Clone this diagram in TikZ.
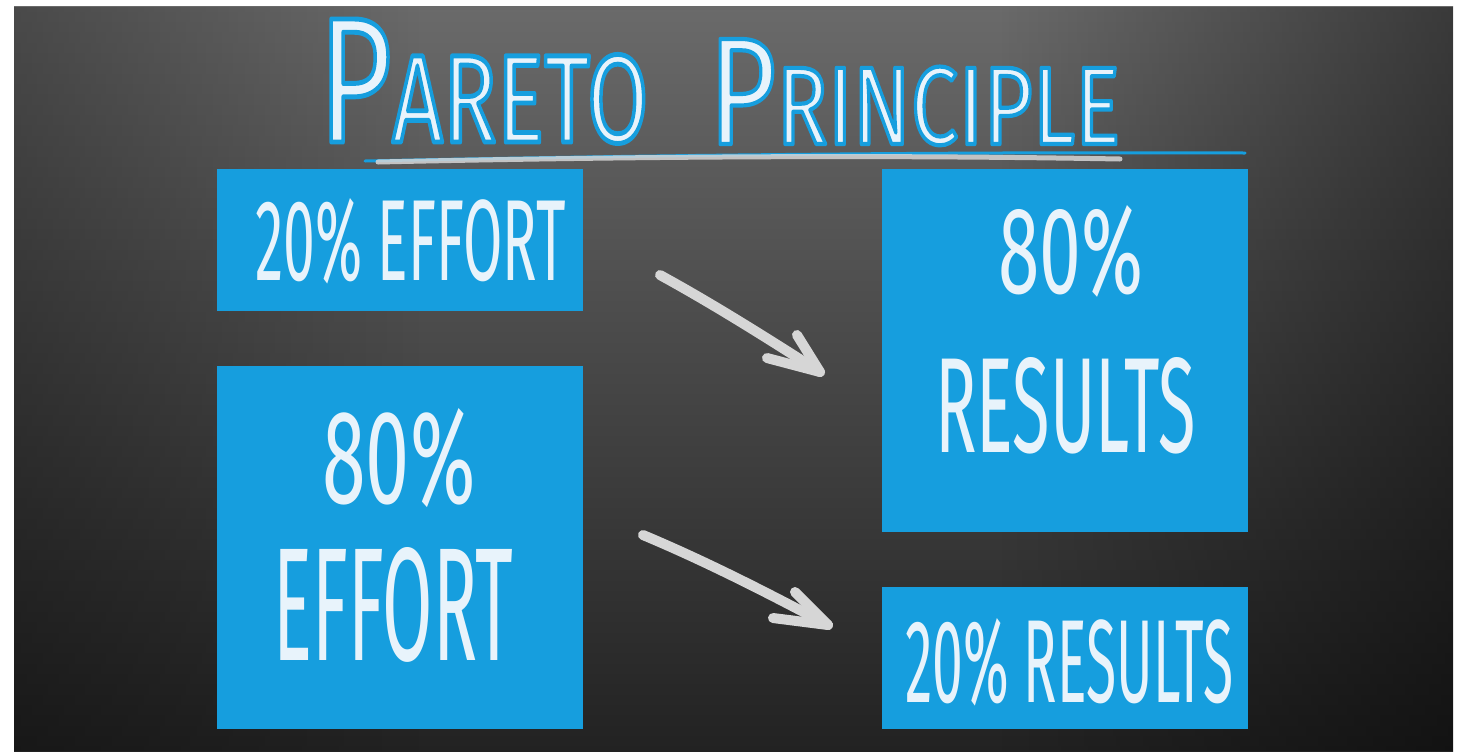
\documentclass[tikz,border=0pt]{standalone}
\usepackage{fontspec}
\setmainfont{Fira Sans}
\usetikzlibrary{fadings}
\newlength\pxu
\setlength\pxu{0.5pt}
\newcommand\pxfit[3]{\resizebox{#1\pxu}{#2\pxu}{#3}}
\definecolor{boardblue}{RGB}{22,158,222}
\definecolor{chalkwhite}{RGB}{232,243,251}
\definecolor{chalkgray}{RGB}{214,214,214}
\definecolor{boardtop}{RGB}{106,106,106}
\definecolor{boardbot}{RGB}{34,34,34}
\newcommand\blueedge[1]{\special{pdf:literal direct 2 Tr 0.086 0.62 0.87 RG 1.1 w 1 j}#1\special{pdf:literal direct 0 Tr}}
\tikzset{
  bluebox/.style={rectangle, fill=boardblue, draw=none, inner sep=0pt},
  boxtext/.style={anchor=base west, inner sep=0pt, text=chalkwhite},
  titletext/.style={anchor=base west, inner sep=0pt, text=chalkwhite},
  chalkline/.style={draw=chalkgray, line width=5pt, line cap=round, line join=round},
}
\begin{document}
\begin{tikzpicture}[x=0.5pt,y=-0.5pt]
\useasboundingbox (0,0) rectangle (1465,751);
\fill[white] (0,0) rectangle (1465,751);
% chalkboard
\shade[top color=boardtop, bottom color=boardbot] (14,6) rectangle (1453,751);
\fill[black, opacity=0.3, path fading=east] (14,6) rectangle (420,751);
\fill[black, opacity=0.45, path fading=west] (1000,6) rectangle (1453,751);
% title, white chalk with blue edge
\node[titletext] (tp) at (318,142) {\pxfit{330}{123}{\blueedge{{\fontsize{40}{40}\selectfont P}{\fontsize{28}{28}\selectfont ARETO}}}};
\node[titletext] (tq) at (708,144) {\pxfit{412}{105}{\blueedge{{\fontsize{40}{40}\selectfont P}{\fontsize{29}{29}\selectfont RINCIPLE}}}};
% underline
\coordinate (ulA) at (365,161);
\coordinate (ulB) at (1245,153);
\coordinate (ulC) at (378,162);
\coordinate (ulD) at (1120,159);
\draw[boardblue, line width=1.5pt, line cap=round] (ulA) .. controls (700,154) and (1000,152) .. (ulB);
\draw[chalkgray, line width=2.5pt, line cap=round, opacity=0.85] (ulC) .. controls (650,156) and (900,155) .. (ulD);
% boxes
\node[bluebox, minimum width=366\pxu, minimum height=142\pxu] (b1) at (400,240) {};
\node[bluebox, minimum width=366\pxu, minimum height=363\pxu] (b2) at (400,547.5) {};
\node[bluebox, minimum width=366\pxu, minimum height=363\pxu] (b3) at (1065,350.5) {};
\node[bluebox, minimum width=366\pxu, minimum height=142\pxu] (b4) at (1065,658) {};
% box texts
\node[boxtext] (t1) at (255,280) {\pxfit{310}{82}{20\% EFFORT}};
\node[boxtext] (t2a) at (322,503) {\pxfit{153}{95}{80\%}};
\node[boxtext] (t2b) at (273,660) {\pxfit{240}{113}{EFFORT}};
\node[boxtext] (t3a) at (998,293) {\pxfit{145}{88}{80\%}};
\node[boxtext] (t3b) at (935,452) {\pxfit{260}{95}{RESULTS}};
\node[boxtext] (t4) at (905,702) {\pxfit{328}{84}{20\% RESULTS}};
% arrows
\coordinate (a1s) at (660,275);
\coordinate (a1t) at (820,372);
\coordinate (a1u) at (797,335);
\coordinate (a1l) at (767,358);
\coordinate (a2s) at (643,535);
\coordinate (a2t) at (828,625);
\coordinate (a2u) at (795,592);
\coordinate (a2l) at (773,618);
\draw[chalkline] (a1s) .. controls (713,304) and (767,338) .. (a1t);
\draw[chalkline] (a1u) -- (a1t) -- (a1l);
\draw[chalkline] (a2s) .. controls (705,561) and (766,592) .. (a2t);
\draw[chalkline] (a2u) -- (a2t) -- (a2l);
\end{tikzpicture}
\end{document}
